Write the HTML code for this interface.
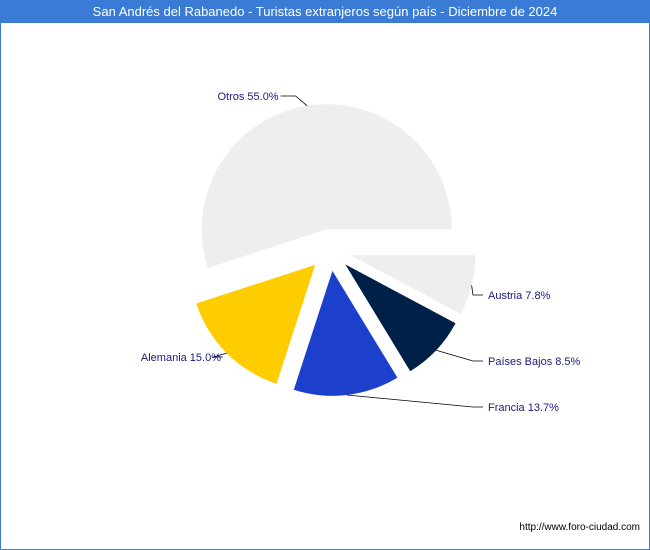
<!DOCTYPE html>
<html><head><meta charset="utf-8"><style>
body{margin:0;width:650px;height:550px;overflow:hidden;font-family:"Liberation Sans","DejaVu Sans",sans-serif;}
#wrap{position:absolute;left:0;top:0;width:648px;height:548px;border:1px solid #3a7bd5;background:#fff;}
#title{position:absolute;left:0;top:0;width:650px;height:23px;background:#3a7bd5;color:#fff;font-size:13px;line-height:23px;text-align:center;}
</style></head><body>
<div id="wrap"></div>
<div id="title">San Andrés del Rabanedo - Turistas extranjeros según país - Diciembre de 2024</div>
<svg id="chart" width="650" height="550" style="position:absolute;left:0;top:0"></svg>
<div style="position:absolute;right:10px;top:522px;font-size:10px;color:#000">http://www.foro-ciudad.com</div>
<script>
const labels=["Otros","Alemania","Francia","Países Bajos","Austria"];
const values=[55.0,15.0,13.7,8.5,7.8];
const colors=["#eeeeee","#ffcc00","#1c3fcc","#002047","#eeeeee"];
const cx=330,cy=250,r=125,ex=21;
const svg=document.getElementById('chart');
const NS="http://www.w3.org/2000/svg";
const total=values.reduce((a,b)=>a+b,0);
let a=0;
values.forEach((v,i)=>{
  const sweep=v/total*2*Math.PI;
  const a0=a,a1=a+sweep,mid=a+sweep/2;a=a1;
  const ox=cx+ex*Math.cos(mid),oy=cy-ex*Math.sin(mid);
  const x0=ox+r*Math.cos(a0),y0=oy-r*Math.sin(a0),x1=ox+r*Math.cos(a1),y1=oy-r*Math.sin(a1);
  const p=document.createElementNS(NS,'path');
  p.setAttribute('d',`M${ox},${oy}L${x0},${y0}A${r},${r} 0 ${sweep>Math.PI?1:0} 0 ${x1},${y1}Z`);
  p.setAttribute('fill',colors[i]);
  
  
  svg.appendChild(p);
  // label
  const ex2=ox+r*Math.cos(mid),ey2=oy-r*Math.sin(mid);
  const right=Math.cos(mid)>=0;
  let lx,ly;
  if(i===0){lx=ox+(r+10)*Math.cos(mid)-25;ly=96;}
  else{lx=right?485:225;ly=oy-(r+25)*Math.sin(mid);}
  if(i===2){lx=485;ly=407;}
  if(i===3){ly=361;}
  if(i===4){ly=295;}
  if(i===1){ly=357;}
  const line=document.createElementNS(NS,'polyline');
  const kx=right?lx-12:lx+ (i===0?15:-12);
  line.setAttribute('points',`${ex2},${ey2} ${i===0?lx+15:kx},${ly} ${i===0?lx:(right?lx-2:lx-2)},${ly}`);
  line.setAttribute('fill','none');line.setAttribute('stroke','#000');line.setAttribute('stroke-width','0.8');
  
  
  svg.appendChild(line);
  const t=document.createElementNS(NS,'text');
  t.setAttribute('x',i===0?lx-2:(right?lx+3:lx-4));t.setAttribute('y',ly+4);
  t.setAttribute('font-size','11');t.setAttribute('fill','#1a1a80');
  t.setAttribute('text-anchor',(right&&i!==0)?'start':'end');
  t.textContent=labels[i]+' '+values[i].toFixed(1)+'%';
  
  
  svg.appendChild(t);
});
</script>
</body></html>
